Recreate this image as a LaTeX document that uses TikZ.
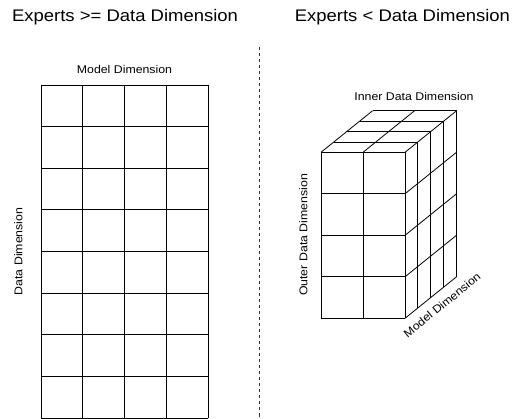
\documentclass[tikz,border=0pt]{standalone}
\usepackage{fontspec}
\setmainfont{Liberation Sans}[FakeStretch=1.1]
\begin{document}
\begin{tikzpicture}[x=1pt,y=-1pt,
  gridline/.style={line width=0.8pt, black},
  title/.style={font=\fontsize{16.8}{18}\selectfont, anchor=base, inner sep=0pt},
  dimlabel/.style={font=\fontsize{11.2}{13}\selectfont, inner sep=0pt},
  sep/.style={line width=0.8pt, dash pattern=on 3.5pt off 2.5pt, black!80}]
\useasboundingbox (0,0) rectangle (514,419);
% titles
\node[title] (t1) at (125,21.3) {Experts >= Data Dimension};
\node[title] (t2) at (402.4,21.3) {Experts < Data Dimension};
% separator
\coordinate (s1) at (259,47);
\coordinate (s2) at (259,418);
\draw[sep] (s1) -- (s2);
% left grid
\def\gx{41.75}\def\gy{41.625}
\foreach \i in {0,...,4}{\draw[gridline] (41+\i*\gx,85) -- (41+\i*\gx,418);}
\foreach \j in {0,...,8}{\draw[gridline] (41,85+\j*\gy) -- (208,85+\j*\gy);}
\node[dimlabel, anchor=base] (md) at (124.5,74) {Model Dimension};
\node[dimlabel, rotate=90] (dd) at (18.3,251.5) {Data Dimension};
% cube
\def\fl{321}\def\fr{405}\def\ft{152.3}\def\fb{318.3}
\def\dx{12.875}\def\dy{10.375}
% front face
\foreach \i in {0,1,2}{\draw[gridline] (\fl+\i*42,\ft) -- (\fl+\i*42,\fb);}
\foreach \j in {0,...,4}{\draw[gridline] (\fl,\ft+\j*41.5) -- (\fr,\ft+\j*41.5);}
% top face
\foreach \k in {1,...,4}{\draw[gridline] (\fl+\k*\dx,\ft-\k*\dy) -- (\fr+\k*\dx,\ft-\k*\dy);}
\foreach \i in {0,1,2}{\draw[gridline] (\fl+\i*42,\ft) -- ++(4*\dx,-4*\dy);}
% side face
\foreach \k in {1,...,4}{\draw[gridline] (\fr+\k*\dx,\ft-\k*\dy) -- (\fr+\k*\dx,\fb-\k*\dy);}
\foreach \j in {1,...,4}{\draw[gridline] (\fr,\ft+\j*41.5) -- ++(4*\dx,-4*\dy);}
\node[dimlabel, anchor=base] (idd) at (414,101) {Inner Data Dimension};
\node[dimlabel, rotate=90] (odd) at (303.3,235) {Outer Data Dimension};
\node[dimlabel, rotate=39] (mdc) at (442,305) {Model Dimension};
\end{tikzpicture}
\end{document}
